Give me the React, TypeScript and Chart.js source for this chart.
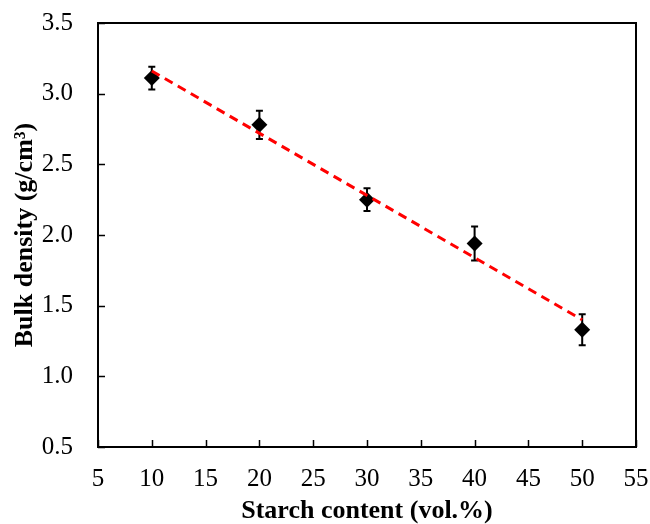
import { useEffect, useRef } from 'react';
import { Chart, registerables } from 'chart.js';

Chart.register(...registerables);

// Data
const starchContent = [10, 20, 30, 40, 50];
const bulkDensity = [3.11, 2.78, 2.25, 1.94, 1.33];
const densityError = [0.08, 0.10, 0.08, 0.12, 0.11];
const fitX = [10, 50];
const fitY = [3.16, 1.40];

const xTickValues = [5, 10, 15, 20, 25, 30, 35, 40, 45, 50, 55];
const yTickValues = [0.5, 1.0, 1.5, 2.0, 2.5, 3.0, 3.5];

const FONT = "'Liberation Serif', 'Times New Roman', serif";

const customPlugin = {
  id: 'customDecor',
  beforeDatasetsDraw(chart: any) {
    const ctx = chart.ctx;
    const xs = chart.scales.x;
    const ys = chart.scales.y;
    ctx.save();
    ctx.strokeStyle = '#000';
    ctx.lineWidth = 2;
    starchContent.forEach((xv, i) => {
      const px = xs.getPixelForValue(xv);
      const top = ys.getPixelForValue(bulkDensity[i] + densityError[i]);
      const bot = ys.getPixelForValue(bulkDensity[i] - densityError[i]);
      ctx.beginPath();
      ctx.moveTo(px, top);
      ctx.lineTo(px, bot);
      ctx.moveTo(px - 3.5, top);
      ctx.lineTo(px + 3.5, top);
      ctx.moveTo(px - 3.5, bot);
      ctx.lineTo(px + 3.5, bot);
      ctx.stroke();
    });
    ctx.restore();
  },
  afterDraw(chart: any) {
    const ctx = chart.ctx;
    const { left, right, top, bottom } = chart.chartArea;
    const xs = chart.scales.x;
    const ys = chart.scales.y;
    ctx.save();
    ctx.strokeStyle = '#000';
    ctx.lineWidth = 2;
    ctx.strokeRect(left, top, right - left, bottom - top);
    ctx.beginPath();
    xTickValues.forEach((v) => {
      const px = Math.round(xs.getPixelForValue(v)) + 0.5;
      ctx.moveTo(px, bottom);
      ctx.lineTo(px, bottom - 7);
    });
    yTickValues.forEach((v) => {
      const py = Math.round(ys.getPixelForValue(v)) + 0.5;
      ctx.moveTo(left, py);
      ctx.lineTo(left + 7, py);
    });
    ctx.lineWidth = 1.5;
    ctx.stroke();
    ctx.restore();
  },
};

export default function App() {
  const canvasRef = useRef<HTMLCanvasElement | null>(null);

  useEffect(() => {
    if (!canvasRef.current) return;
    const chart = new Chart(canvasRef.current, {
      type: 'scatter',
      data: {
        datasets: [
          {
            type: 'line',
            label: 'Linear fit',
            data: fitX.map((x, i) => ({ x, y: fitY[i] })),
            borderColor: '#ff0000',
            borderWidth: 3,
            borderDash: [9, 6],
            pointRadius: 0,
            fill: false,
          },
          {
            type: 'scatter',
            label: 'Bulk density',
            data: starchContent.map((x, i) => ({ x, y: bulkDensity[i] })),
            pointStyle: 'rectRot',
            pointRadius: 8,
            pointHoverRadius: 8,
            backgroundColor: '#000',
            borderColor: '#000',
            borderWidth: 0,
          },
        ],
      },
      options: {
        animation: false,
        responsive: true,
        maintainAspectRatio: false,
        layout: { padding: { left: 0, top: 23, right: 14, bottom: 0 } },
        plugins: {
          legend: { display: false },
          tooltip: { enabled: false },
        },
        scales: {
          x: {
            type: 'linear',
            min: 5,
            max: 55,
            afterBuildTicks: (scale: any) => {
              scale.ticks = xTickValues.map((v) => ({ value: v }));
            },
            afterFit: (scale: any) => {
              scale.height = 77;
              scale.paddingLeft = 0;
              scale.paddingRight = 0;
            },
            grid: { display: false, drawTicks: false },
            border: { display: true, color: '#000', width: 2 },
            ticks: {
              color: '#000',
              padding: 17,
              font: { family: FONT, size: 25 },
              maxRotation: 0,
              autoSkip: false,
            },
            title: {
              display: true,
              text: 'Starch content (vol.%)',
              color: '#000',
              font: { family: FONT, size: 26, weight: 'bold', lineHeight: 1 },
              padding: { top: 0, bottom: 0 },
            },
          },
          y: {
            type: 'linear',
            min: 0.5,
            max: 3.5,
            afterBuildTicks: (scale: any) => {
              scale.ticks = yTickValues.map((v) => ({ value: v }));
            },
            afterFit: (scale: any) => {
              scale.width = 98;
              scale.paddingTop = 0;
              scale.paddingBottom = 0;
            },
            grid: { display: false, drawTicks: false },
            border: { display: true, color: '#000', width: 2 },
            ticks: {
              color: '#000',
              padding: 25,
              font: { family: FONT, size: 25 },
              callback: (v: any) => Number(v).toFixed(1),
            },
            title: {
              display: true,
              text: 'Bulk density (g/cm³)',
              color: '#000',
              font: { family: FONT, size: 26, weight: 'bold', lineHeight: 1 },
              padding: { top: 12, bottom: 0 },
            },
          },
        },
      },
      plugins: [customPlugin],
    });
    return () => chart.destroy();
  }, []);

  return (
    <div style={{ position: 'absolute', left: 0, top: 0, width: 650, height: 524, background: '#fff' }}>
      <canvas ref={canvasRef} />
    </div>
  );
}
